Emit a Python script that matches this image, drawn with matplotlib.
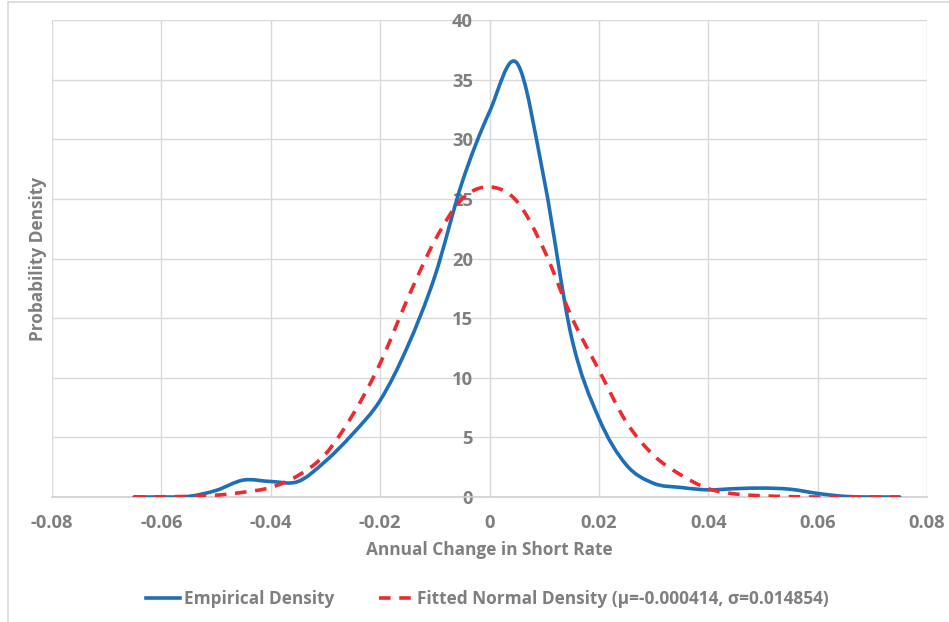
import numpy as np
import matplotlib
matplotlib.use("Agg")
import matplotlib.pyplot as plt
from matplotlib.path import Path
from matplotlib.patches import PathPatch, Rectangle
from matplotlib.lines import Line2D

# values, step 0.005
x_vals = [-0.065, -0.06, -0.055, -0.05, -0.045, -0.04, -0.035, -0.03, -0.025,
          -0.02, -0.015, -0.01, -0.005, 0.0, 0.005, 0.01, 0.015, 0.02, 0.025,
          0.03, 0.035, 0.04, 0.045, 0.05, 0.055, 0.06, 0.065, 0.07, 0.075]
empirical = [0.0, 0.0, 0.05, 0.55, 1.42, 1.3, 1.3, 3.0, 5.3,
             8.1, 12.6, 18.5, 26.4, 32.3, 36.4, 26.6, 13.4, 6.6, 2.7,
             1.15, 0.8, 0.6, 0.7, 0.75, 0.65, 0.3, 0.05, 0.0, 0.0]
fitted = [0.0, 0.02, 0.05, 0.15, 0.4, 0.8, 1.8, 3.6, 6.9,
          11.2, 16.6, 21.5, 25.0, 26.0, 24.8, 20.7, 15.1, 10.65, 6.3,
          3.5, 1.85, 0.7, 0.25, 0.1, 0.03, 0.0, 0.0, 0.0, 0.0]

x_ticks = [-0.08, -0.06, -0.04, -0.02, 0, 0.02, 0.04, 0.06, 0.08]
x_tick_labels = ["-0.08", "-0.06", "-0.04", "-0.02", "0", "0.02", "0.04", "0.06", "0.08"]
y_ticks = [0, 5, 10, 15, 20, 25, 30, 35, 40]

label_emp = "Empirical Density"
label_fit = "Fitted Normal Density (\u03bc=-0.000414, \u03c3=0.014854)"

plt.rcParams['font.family'] = ['Open Sans', 'DejaVu Sans']
grey_txt = '#7f7f7f'
grid_c = '#d9d9d9'
fs = 12.4
fs_tick = 13.2


def smooth_path(xs, ys):
    # Excel-like smoothed line: cubic bezier segments through the points
    xs = np.asarray(xs, float)
    ys = np.asarray(ys, float)
    n = len(xs)
    verts = [(xs[0], ys[0])]
    codes = [Path.MOVETO]
    for i in range(n - 1):
        p0 = np.array([xs[max(i - 1, 0)], ys[max(i - 1, 0)]])
        p1 = np.array([xs[i], ys[i]])
        p2 = np.array([xs[i + 1], ys[i + 1]])
        p3 = np.array([xs[min(i + 2, n - 1)], ys[min(i + 2, n - 1)]])
        c1 = p1 + (p2 - p0) / 6.0
        c2 = p2 - (p3 - p1) / 6.0
        verts += [tuple(c1), tuple(c2), tuple(p2)]
        codes += [Path.CURVE4] * 3
    return Path(verts, codes)


fig = plt.figure(figsize=(9.49, 6.22), dpi=100)
ax = fig.add_axes([52 / 949, 125 / 622, 875 / 949, 477 / 622])

ax.set_xlim(-0.08, 0.08)
ax.set_ylim(0, 40)

ax.add_patch(PathPatch(smooth_path(x_vals, empirical), fill=False,
                       edgecolor='#1f6fb8', linewidth=2.6, zorder=3,
                       capstyle='round', joinstyle='round'))
ax.add_patch(PathPatch(smooth_path(x_vals, fitted), fill=False,
                       edgecolor='#ee2a2f', linewidth=2.6, linestyle=(0, (3.2, 2.4)),
                       zorder=4))

ax.set_xticks(x_ticks)
ax.set_xticklabels(x_tick_labels)
ax.set_yticks(y_ticks)
ax.grid(True, color=grid_c, linewidth=1.0)
ax.set_axisbelow(True)

for s in ['top', 'right']:
    ax.spines[s].set_visible(False)
ax.spines['left'].set_position(('data', 0))
ax.spines['left'].set_color(grid_c)
ax.spines['bottom'].set_color('#d0d0d0')
ax.spines['bottom'].set_linewidth(1.2)

ax.tick_params(axis='both', length=0, labelsize=fs_tick, labelcolor=grey_txt)
ax.tick_params(axis='y', pad=12)
ax.tick_params(axis='x', pad=12)
for t in ax.get_xticklabels() + ax.get_yticklabels():
    t.set_fontweight('bold')

ax.set_xlabel("Annual Change in Short Rate", fontsize=fs, fontweight='bold',
              color=grey_txt, labelpad=7)
fig.text(38 / 949, 1 - 259 / 622, "Probability Density", rotation=90,
         ha='center', va='center', fontsize=fs, fontweight='bold', color=grey_txt)

handles = [Line2D([], [], color='#1f6fb8', linewidth=2.6),
           Line2D([], [], color='#ee2a2f', linewidth=2.6, linestyle=(0, (3.2, 2.4)))]
fig.legend(handles, [label_emp, label_fit], loc='center', ncol=2,
           bbox_to_anchor=(487 / 949, 1 - 599 / 622), frameon=False,
           prop={'size': fs, 'weight': 'bold'}, labelcolor=grey_txt,
           handlelength=2.0, handletextpad=0.2, columnspacing=2.6)

fig.add_artist(Rectangle((8 / 949, -0.05), 1.1, 1.05 - 2.5 / 622,
                         transform=fig.transFigure, fill=False,
                         edgecolor=grid_c, linewidth=1.2))

fig.savefig("out.png", dpi=100)
